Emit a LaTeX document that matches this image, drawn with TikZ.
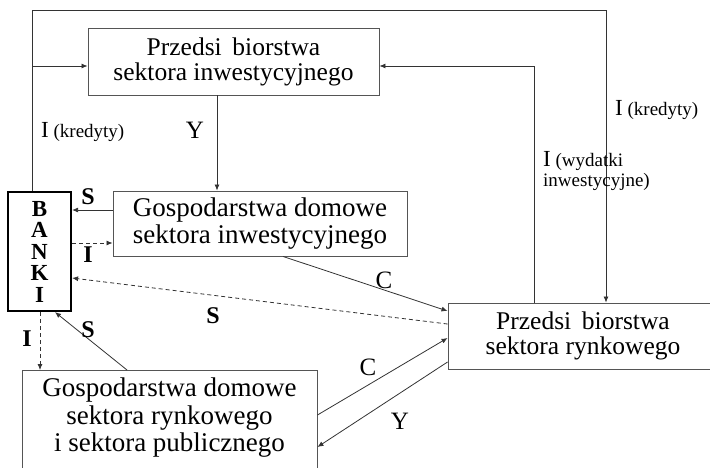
\documentclass[tikz,border=0pt]{standalone}
\usepackage{fontspec}
\setmainfont{Liberation Serif}
\usetikzlibrary{arrows.meta}
\definecolor{edge}{HTML}{555555}
\definecolor{wire}{HTML}{333333}
\tikzset{
  box/.style={draw=edge, line width=0.9pt, align=center, inner sep=0pt,
    font=\fontsize{25.5}{25}\selectfont},
  bank/.style={draw=black, line width=2.2pt, align=center, inner sep=0pt,
    font=\fontsize{23}{21.5}\selectfont\bfseries},
  flow/.style={draw=wire, line width=0.8pt, -{Latex[length=6pt,width=5pt]}},
  credit/.style={flow, dashed, dash pattern=on 4pt off 3pt},
  sym/.style={inner sep=0pt, font=\fontsize{25}{25}\selectfont},
  symb/.style={inner sep=0pt, font=\fontsize{24}{24}\selectfont\bfseries},
  note/.style={inner sep=0pt, align=left, font=\fontsize{19}{20}\selectfont},
}
\newcommand{\bigI}{{\fontsize{23}{23}\selectfont I}}
\begin{document}
\begin{tikzpicture}[x=1pt,y=-1pt]
  \useasboundingbox (0,0) rectangle (710,467);
  \clip (0,0) rectangle (710,467);

  % Sectors
  \node[box, minimum width=291, minimum height=67] (pinw) at (233.5,61.5)
    {Przedsi\, biorstwa\\sektora inwestycyjnego};
  \node[box, minimum width=294, minimum height=65, font=\fontsize{27}{27}\selectfont] (ginw) at (260,223.5)
    {Gospodarstwa domowe\\sektora inwestycyjnego};
  \node[box, minimum width=270, minimum height=66] (prynk) at (583,336)
    {Przedsi\, biorstwa\\sektora rynkowego};
  \node[box, minimum width=295, minimum height=108, anchor=north] (grynk) at (169.5,370) {};
  \node[align=center, inner sep=0pt, font=\fontsize{27}{27.5}\selectfont] (grynktxt) at (169.5,418)
    {Gospodarstwa domowe\\sektora rynkowego\\i sektora publicznego};

  % Banks
  \node[bank, minimum width=63, minimum height=119] (banki) at (39.5,251.5)
    {B\\A\\N\\K\\I};

  % Credit loop over the top
  \coordinate (topleft) at (32,10);
  \coordinate (topright) at (606,10);
  \coordinate (invret) at (534,66);
  \draw[flow] (topleft |- banki.north) -- (topleft) -- (topright) -- (topright |- prynk.north);
  \draw[flow] (topleft |- invret) -- (pinw.west |- invret);
  \draw[flow] (invret |- prynk.north) -- (invret) -- (pinw.east |- invret);

  % Income and savings flows
  \draw[flow] (217,0 |- pinw.south) -- (217,0 |- ginw.north);
  \draw[flow] (ginw.west |- 0,210) -- (banki.east |- 0,210);
  \draw[credit] (banki.east |- 0,243) -- (ginw.west |- 0,243);
  \draw[credit] (prynk.west |- 0,324) -- (banki.east |- 0,278);
  \draw[flow] (283,0 |- ginw.south) -- (prynk.west |- 0,311);
  \draw[credit] (40,0 |- banki.south) -- (40,0 |- grynk.north);
  \draw[flow] (127,0 |- grynk.north) -- (55,0 |- banki.south);
  \draw[flow] (grynk.east |- 0,415) -- (prynk.west |- 0,338);
  \draw[flow] (prynk.west |- 0,362) -- (grynk.east |- 0,447);

  % Labels
  \node[note, anchor=base west] (kredl) at (41,137) {\bigI\ (kredyty)};
  \node[note, anchor=base west] (kredr) at (615,115) {\bigI\ (kredyty)};
  \node[note, anchor=north west] (wyd) at (543,151) {\bigI\ (wydatki\\inwestycyjne)};
  \node[sym] (ytop) at (195,130) {Y};
  \node[symb] (sinw) at (88,197) {S};
  \node[symb] (iinw) at (88,255) {I};
  \node[symb] (sryn) at (213,316) {S};
  \node[sym] (cinw) at (384,280) {C};
  \node[symb] (idom) at (27,339) {I};
  \node[symb] (sdom) at (88,330) {S};
  \node[sym] (cdom) at (368,367) {C};
  \node[sym] (ydom) at (400,421) {Y};
\end{tikzpicture}
\end{document}
